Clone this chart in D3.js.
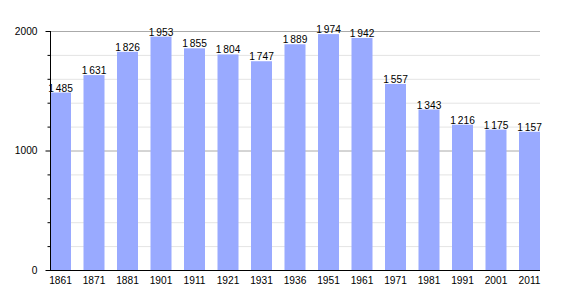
<!DOCTYPE html>
<html>
<head>
<meta charset="utf-8">
<script src="https://cdn.jsdelivr.net/npm/d3@7"></script>
<style>
  body { margin: 0; background: #fff; }
  text { font-family: "Liberation Sans", Arial, sans-serif; font-size: 10.2px; fill: #000; }
</style>
</head>
<body>
<svg width="570" height="300"></svg>
<script>
const years = ["1861", "1871", "1881", "1901", "1911", "1921", "1931", "1936", "1951", "1961", "1971", "1981", "1991", "2001", "2011"];
const population = [1485, 1631, 1826, 1953, 1855, 1804, 1747, 1889, 1974, 1942, 1557, 1343, 1216, 1175, 1157];
const majorTicks = [0, 1000, 2000];
const minorTicks = [200, 400, 600, 800, 1200, 1400, 1600, 1800];

let svg = d3.select("svg");
let plotLeft = 50, plotRight = 540, plotTop = 31, plotBottom = 270;

let x = d3.scaleBand().domain(years).range([plotLeft, plotRight]).paddingInner(0.373).paddingOuter(0);
let y = d3.scaleLinear().domain([0, 2000]).range([plotBottom, plotTop]);

function fmt(v) {
    return d3.format(",")(v).replace(",", "\u2009");
}

// grid
svg.selectAll("line.minor").data(minorTicks).enter()
    .append("line")
    .attr("x1", plotLeft).attr("x2", plotRight)
    .attr("y1", d => y(d) + 0.5).attr("y2", d => y(d) + 0.5)
    .style("stroke", "#e4e4e4");

svg.selectAll("line.major").data(majorTicks.filter(d => d > 0)).enter()
    .append("line")
    .attr("x1", plotLeft).attr("x2", plotRight)
    .attr("y1", d => y(d) + 0.5).attr("y2", d => y(d) + 0.5)
    .style("stroke", "#aaaaaa");

// bars
svg.selectAll("rect").data(years).enter()
    .append("rect")
    .attr("x", d => x(d))
    .attr("width", x.bandwidth())
    .attr("y", (d, i) => y(population[i]))
    .attr("height", (d, i) => plotBottom - y(population[i]))
    .style("fill", "#99aaff");

// value labels
svg.selectAll("text.val").data(years).enter()
    .append("text")
    .attr("x", d => x(d) + x.bandwidth() / 2)
    .attr("y", (d, i) => y(population[i]) - 1)
    .attr("text-anchor", "middle")
    .text((d, i) => fmt(population[i]));

// y axis: minor ticks, then major ticks with labels
let gyMinor = svg.append("g").attr("transform", `translate(${plotLeft + 0.5},0)`)
    .call(d3.axisLeft(y).tickValues(minorTicks).tickSize(3).tickFormat(""));
let gy = svg.append("g").attr("transform", `translate(${plotLeft + 0.5},0)`)
    .call(d3.axisLeft(y).tickValues(majorTicks).tickSize(5).tickFormat(d3.format("d")));
[gyMinor, gy].forEach(g => {
    g.select(".domain").remove();
    g.selectAll(".tick line").style("stroke", "#000");
    g.attr("font-family", null).attr("font-size", null);
});
gy.selectAll(".tick text").attr("x", -13);

svg.append("line")
    .attr("x1", plotLeft + 0.5).attr("x2", plotLeft + 0.5)
    .attr("y1", plotTop).attr("y2", plotBottom + 1)
    .style("stroke", "#000");

// x axis
let gx = svg.append("g").attr("transform", `translate(0,${plotBottom})`)
    .call(d3.axisBottom(x).tickSize(0).tickPadding(7));
gx.select(".domain").remove();
gx.attr("font-family", null).attr("font-size", null);

svg.append("line")
    .attr("x1", plotLeft).attr("x2", plotRight)
    .attr("y1", plotBottom + 0.5).attr("y2", plotBottom + 0.5)
    .style("stroke", "#000");
</script>
</body>
</html>
